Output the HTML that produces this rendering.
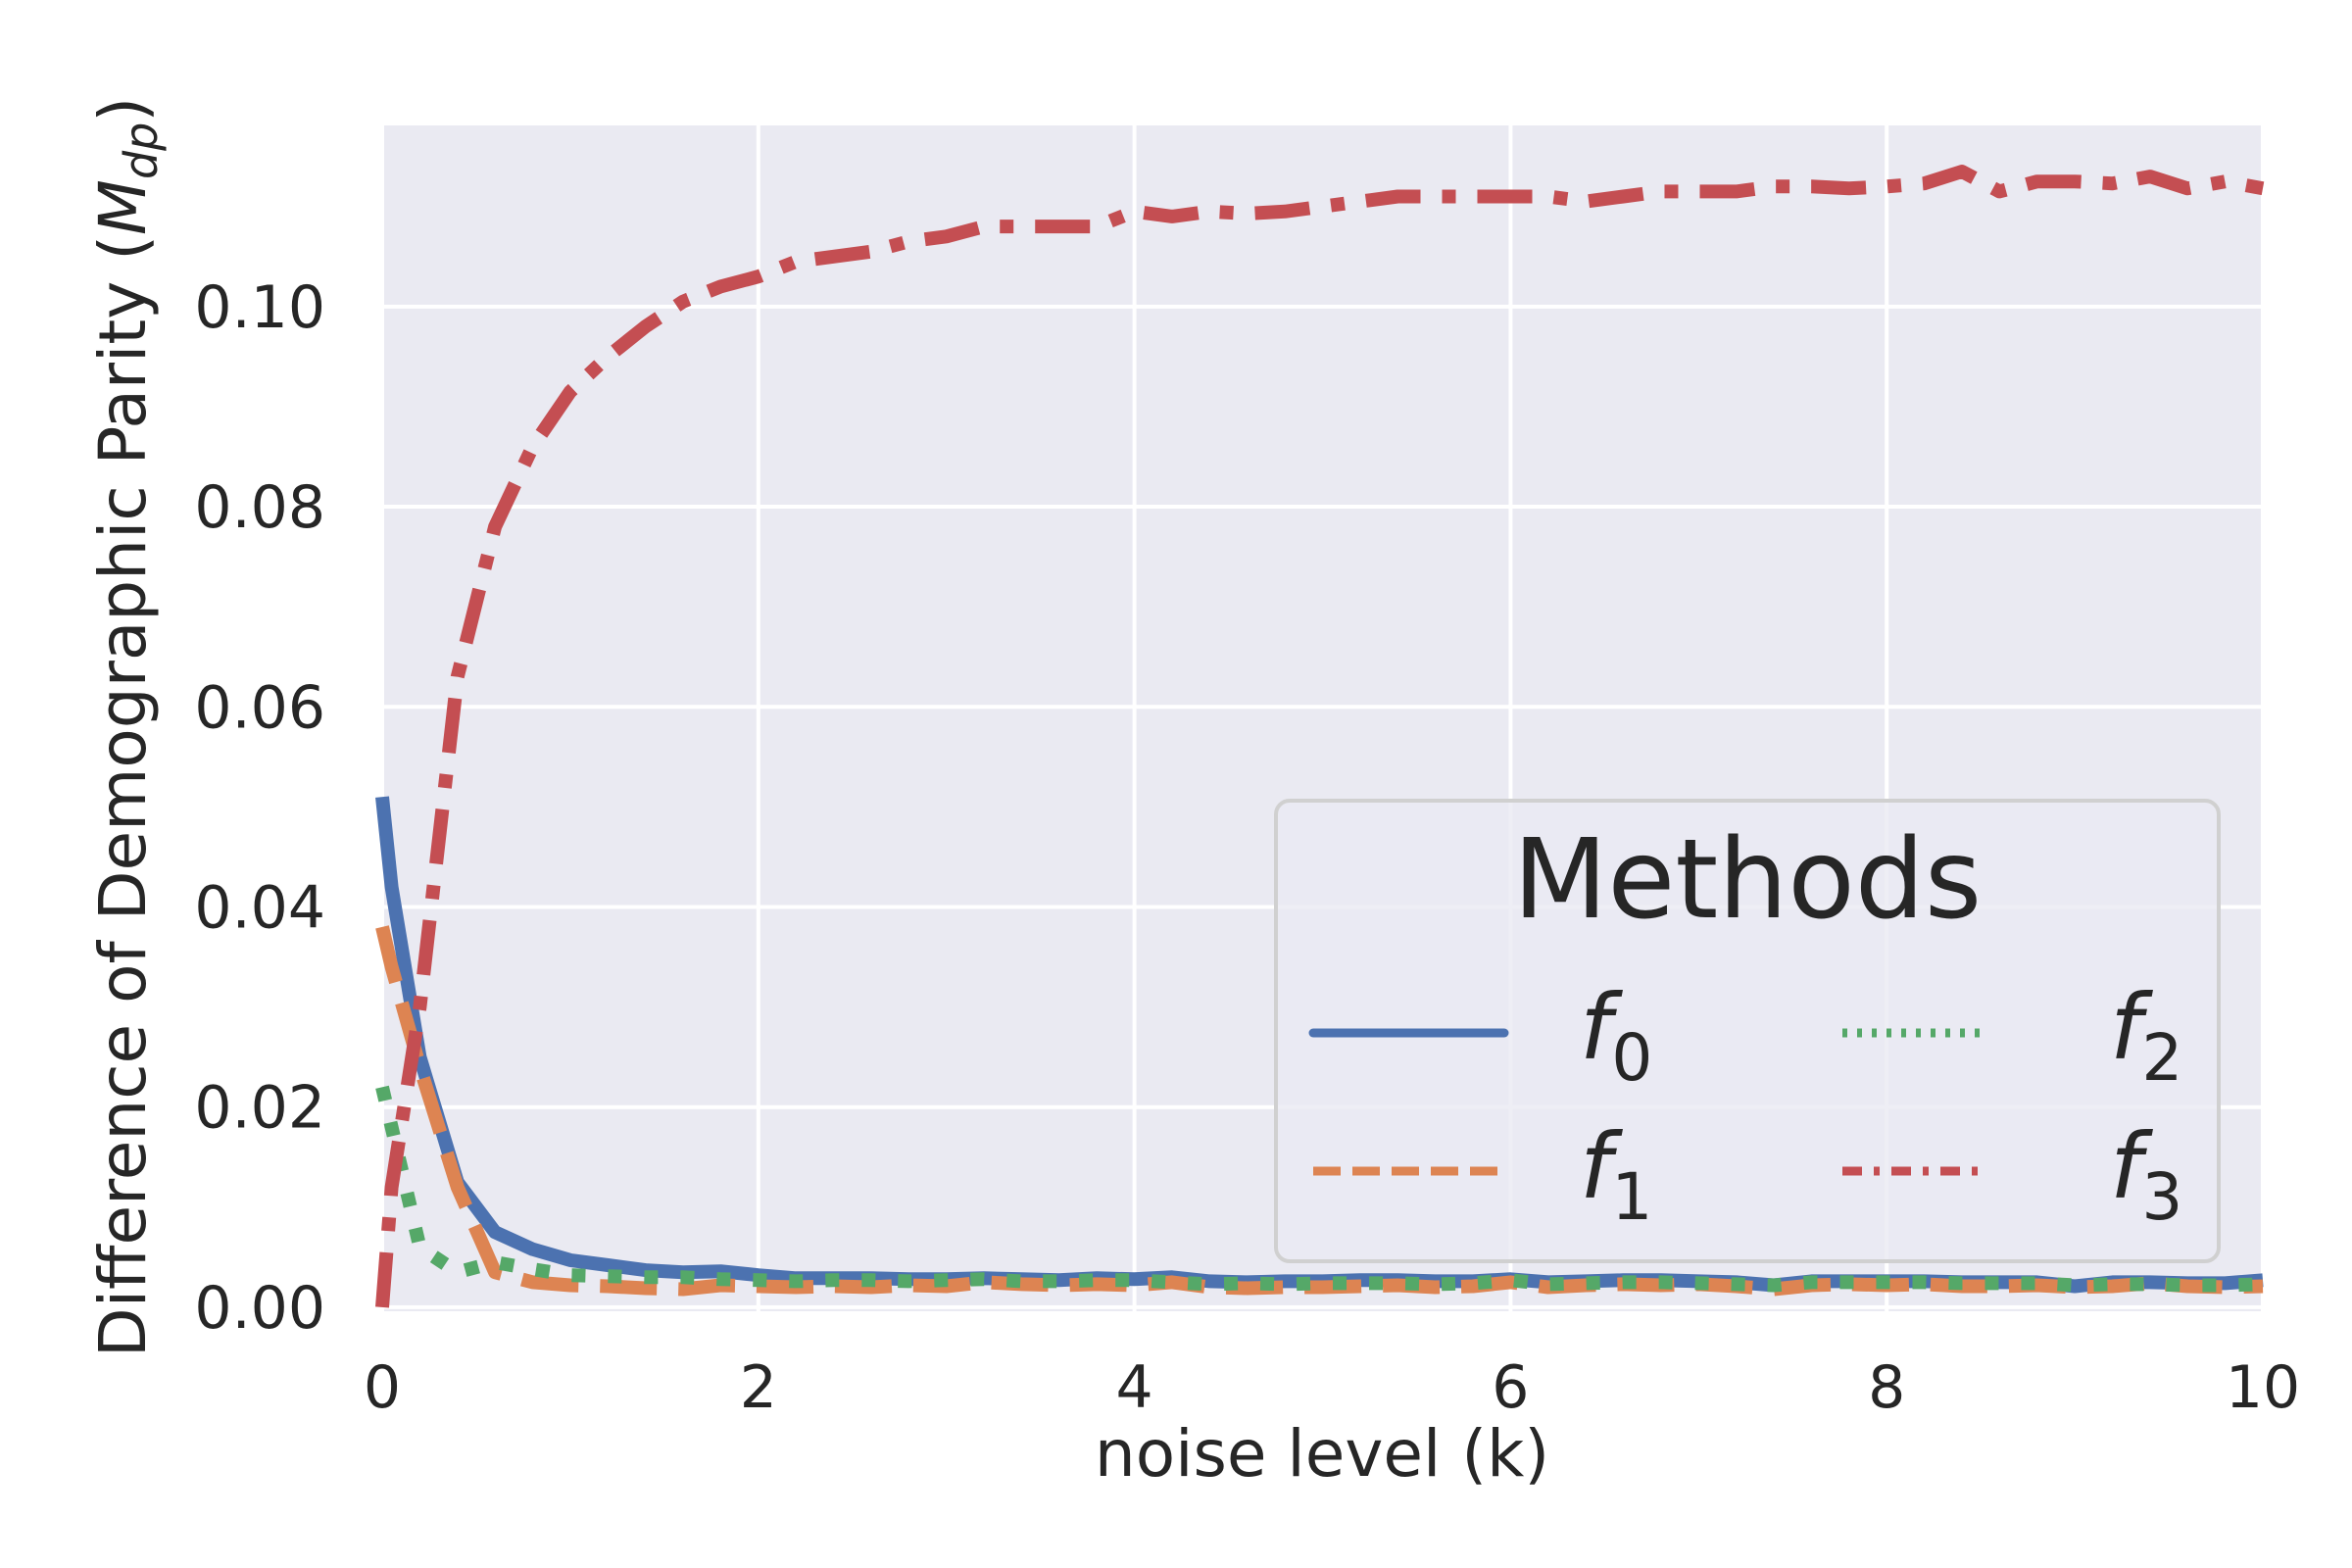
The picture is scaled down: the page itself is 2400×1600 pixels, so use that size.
<!DOCTYPE html>
<html><head><meta charset="utf-8"><style>
html,body{margin:0;padding:0;background:#fff;}
svg{display:block;font-family:"DejaVu Sans","Liberation Sans",sans-serif;}
</style></head><body>
<svg id="chart" width="2400" height="1600" viewBox="0 0 2400 1600" xmlns="http://www.w3.org/2000/svg"></svg>
<script>
const xTicks = [0, 2, 4, 6, 8, 10];
const yTicks = [0.00, 0.02, 0.04, 0.06, 0.08, 0.10];
const yTickLabels = ["0.00", "0.02", "0.04", "0.06", "0.08", "0.10"];
const noiseLevels = [0,0.05,0.2,0.4,0.6,0.8,1.0,1.2,1.4,1.6,1.8,2.0,2.2,2.4,2.6,2.8,3.0,3.2,3.4,3.6,3.8,4.0,4.2,4.4,4.6,4.8,5.0,5.2,5.4,5.6,5.8,6.0,6.2,6.4,6.6,6.8,7.0,7.2,7.4,7.6,7.8,8.0,8.2,8.4,8.6,8.8,9.0,9.2,9.4,9.6,9.8,10.0];
const f0 = [0.051,0.042,0.025,0.0125,0.0075,0.0058,0.0047,0.0042,0.0037,0.0035,0.0036,0.0032,0.0029,0.0029,0.0029,0.0028,0.0028,0.0029,0.0028,0.0027,0.0029,0.0028,0.0030,0.0026,0.0025,0.0026,0.0026,0.0027,0.0027,0.0026,0.0026,0.0028,0.0025,0.0026,0.0027,0.0027,0.0026,0.0025,0.0022,0.0026,0.0026,0.0026,0.0026,0.0025,0.0025,0.0025,0.0021,0.0025,0.0025,0.0024,0.0024,0.0027];
const f1 = [0.038,0.034,0.024,0.012,0.0035,0.0025,0.0022,0.0021,0.0019,0.0018,0.0022,0.0021,0.0020,0.0021,0.0020,0.0022,0.0021,0.0025,0.0023,0.0022,0.0023,0.0022,0.0025,0.0020,0.0019,0.0020,0.0020,0.0021,0.0022,0.0020,0.0021,0.0025,0.0020,0.0022,0.0023,0.0022,0.0023,0.0021,0.0018,0.0022,0.0023,0.0022,0.0023,0.0021,0.0021,0.0022,0.0020,0.0021,0.0024,0.0021,0.0020,0.0021];
const f2 = [0.022,0.018,0.006,0.0035,0.0045,0.0038,0.0032,0.0031,0.0030,0.0030,0.0028,0.0027,0.0026,0.0027,0.0027,0.0026,0.0027,0.0028,0.0026,0.0026,0.0027,0.0027,0.0025,0.0023,0.0024,0.0023,0.0024,0.0024,0.0024,0.0023,0.0024,0.0027,0.0023,0.0024,0.0025,0.0025,0.0024,0.0023,0.0022,0.0025,0.0025,0.0025,0.0025,0.0024,0.0024,0.0024,0.0022,0.0023,0.0023,0.0022,0.0022,0.0023];
const f3 = [0,0.012,0.03,0.063,0.078,0.086,0.0915,0.095,0.098,0.1005,0.102,0.103,0.1045,0.105,0.1055,0.1065,0.107,0.108,0.108,0.108,0.108,0.1095,0.109,0.1095,0.1093,0.1095,0.110,0.1105,0.111,0.111,0.111,0.111,0.111,0.1105,0.111,0.1115,0.1115,0.1115,0.112,0.112,0.1118,0.112,0.1123,0.1135,0.1115,0.1125,0.1125,0.1123,0.113,0.1118,0.1125,0.1118];

const NS = "http://www.w3.org/2000/svg";
const svg = document.getElementById('chart');
const L = 390, R = 2309, T = 128, B = 1338;
const xMin = 0, xMax = 10, yMin = -0.0004, yMax = 0.1181;
function xs(v){ return L + (v - xMin) / (xMax - xMin) * (R - L); }
function ys(v){ return B - (v - yMin) / (yMax - yMin) * (B - T); }
function mk(tag, attrs){ const e = document.createElementNS(NS, tag); for (const k in attrs) e.setAttribute(k, attrs[k]); svg.appendChild(e); return e; }

const bg = mk('rect', {x:L, y:T, width:R-L, height:B-T, fill:'#eaeaf2'});



xTicks.forEach(t => {
  const g = mk('line', {x1:xs(t), x2:xs(t), y1:T, y2:B, stroke:'#fff', 'stroke-width':4});
  
  
  const lb = mk('text', {x:xs(t), y:1436, 'text-anchor':'middle', 'font-size':60, fill:'#262626'});
  lb.textContent = String(t);
  
  
});
yTicks.forEach((t, i) => {
  const g = mk('line', {x1:L, x2:R, y1:ys(t), y2:ys(t), stroke:'#fff', 'stroke-width':4});
  
  
  const lb = mk('text', {x:332, y:ys(t)+21, 'text-anchor':'end', 'font-size':60, fill:'#262626'});
  lb.textContent = yTickLabels[i];
  
  
});

function path(vals){ return vals.map((v,i)=>(i?'L':'M')+xs(noiseLevels[i]).toFixed(1)+','+ys(v).toFixed(1)).join(' '); }
const series = [
  {d:f0, c:'#4c72b0', dash:'', name:'line-f0'},
  {d:f1, c:'#dd8452', dash:'58,22', name:'line-f1'},
  {d:f2, c:'#55a868', dash:'14,23', name:'line-f2'},
  {d:f3, c:'#c44e52', dash:'56,22,14,22', name:'line-f3'}
];
series.forEach(s => {
  const p = mk('path', {d:path(s.d), fill:'none', stroke:s.c, 'stroke-width':14, 'stroke-dasharray':s.dash||'none', 'stroke-linejoin':'round'});
  
  
});
</script>
<svg style="position:absolute;left:0;top:0" width="2400" height="1600" xmlns="http://www.w3.org/2000/svg" font-family="DejaVu Sans, Liberation Sans, sans-serif">
  <text x="1349" y="1506" text-anchor="middle" font-size="66" fill="#262626">noise level (k)</text>
  <text transform="translate(148,742) rotate(-90)" text-anchor="middle" font-size="66" fill="#262626">Difference of Demographic Parity (<tspan font-style="italic">M</tspan><tspan font-style="italic" font-size="46" dy="12">dp</tspan><tspan dy="-12">)</tspan></text>
  <g>
    <rect x="1302" y="817" width="962" height="470" rx="14" fill="#eaeaf2" fill-opacity="0.8" stroke="#d0d0d0" stroke-width="4"/>
    <text x="1783" y="936" text-anchor="middle" font-size="112" fill="#262626">Methods</text>
    <g>
      <line x1="1340" x2="1535" y1="1054" y2="1054" stroke="#4c72b0" stroke-width="9" stroke-linecap="round"/>
      <text x="1612" y="1080" font-size="92" font-style="italic" fill="#262626">f<tspan font-size="66" dy="22" font-style="normal">0</tspan></text>
    </g>
    <g>
      <line x1="1340" x2="1535" y1="1195" y2="1195" stroke="#dd8452" stroke-width="9" stroke-dasharray="28,12"/>
      <text x="1612" y="1222" font-size="92" font-style="italic" fill="#262626">f<tspan font-size="66" dy="22" font-style="normal">1</tspan></text>
    </g>
    <g>
      <line x1="1880" x2="2030" y1="1054" y2="1054" stroke="#55a868" stroke-width="9" stroke-dasharray="5,10"/>
      <text x="2153" y="1080" font-size="92" font-style="italic" fill="#262626">f<tspan font-size="66" dy="22" font-style="normal">2</tspan></text>
    </g>
    <g>
      <line x1="1880" x2="2030" y1="1195" y2="1195" stroke="#c44e52" stroke-width="9" stroke-dasharray="20,12,6,12"/>
      <text x="2153" y="1222" font-size="92" font-style="italic" fill="#262626">f<tspan font-size="66" dy="22" font-style="normal">3</tspan></text>
    </g>
  </g>
</svg>
</body></html>
